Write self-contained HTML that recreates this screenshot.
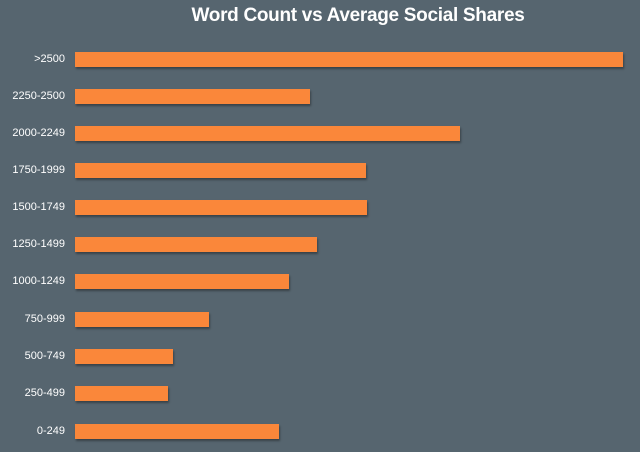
<!DOCTYPE html>
<html><head><style>
html,body{margin:0;padding:0}
body{width:640px;height:452px;background:#56656f;position:relative;overflow:hidden;font-family:"Liberation Sans",sans-serif}
.t{position:absolute;top:5px;left:0;width:716px;text-align:center;color:#fff;font-weight:bold;font-size:19px;letter-spacing:-0.3px}
.b{position:absolute;left:75px;height:15px;background:#fa873a;box-shadow:1px 2px 2px rgba(0,0,0,0.35)}
.l{position:absolute;right:575px;color:#fff;font-size:11px;text-align:right;white-space:nowrap}
</style></head><body>
<div class="t">Word Count vs Average Social Shares</div>
<div class="l" style="top:53px">&gt;2500</div><div class="b" style="top:52px;width:548px"></div>
<div class="l" style="top:90px">2250-2500</div><div class="b" style="top:89px;width:235px"></div>
<div class="l" style="top:127px">2000-2249</div><div class="b" style="top:126px;width:385px"></div>
<div class="l" style="top:164px">1750-1999</div><div class="b" style="top:163px;width:291px"></div>
<div class="l" style="top:201px">1500-1749</div><div class="b" style="top:200px;width:292px"></div>
<div class="l" style="top:238px">1250-1499</div><div class="b" style="top:237px;width:242px"></div>
<div class="l" style="top:275px">1000-1249</div><div class="b" style="top:274px;width:214px"></div>
<div class="l" style="top:313px">750-999</div><div class="b" style="top:312px;width:134px"></div>
<div class="l" style="top:350px">500-749</div><div class="b" style="top:349px;width:98px"></div>
<div class="l" style="top:387px">250-499</div><div class="b" style="top:386px;width:93px"></div>
<div class="l" style="top:425px">0-249</div><div class="b" style="top:424px;width:204px"></div>
</body></html>
